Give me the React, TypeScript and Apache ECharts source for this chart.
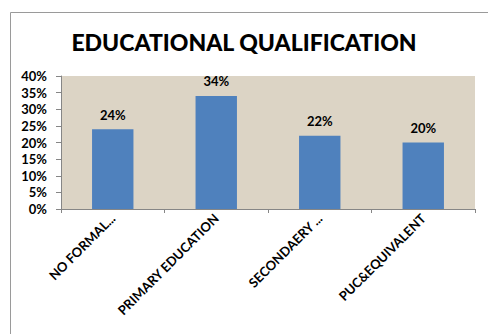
import React, { useEffect, useRef } from "react";
import * as echarts from "echarts";

const categories = ["NO FORMAL...", "PRIMARY EDUCATION", "SECONDAERY ...", "PUC&EQUIVALENT"];
const shares = [24, 34, 22, 20];
const titleText = "EDUCATIONAL QUALIFICATION";

const FONT = "Lato, 'Open Sans', sans-serif";

export default function App() {
  const ref = useRef<HTMLDivElement>(null);

  useEffect(() => {
    if (!ref.current) return;
    const chart = echarts.init(ref.current, null, { renderer: "svg" });
    chart.setOption({
      animation: false,
      backgroundColor: "#ffffff",
      graphic: [
        {
          type: "rect",
          shape: { x: 10.5, y: 12.5, width: 500, height: 400 },
          style: { fill: "none", stroke: "#9a9a9a", lineWidth: 1 },
          z: -10,
        },
      ],
      title: {
        text: titleText,
        left: "center",
        top: 25,
        textStyle: {
          fontFamily: FONT,
          fontWeight: 900,
          fontSize: 23,
          color: "#000000",
        },
      },
      grid: {
        left: 61,
        right: 13,
        top: 76,
        bottom: 125,
        show: true,
        backgroundColor: "#dcd4c5",
        borderWidth: 0,
      },
      xAxis: {
        type: "category",
        data: categories,
        axisLine: { lineStyle: { color: "#868686", width: 1 } },
        axisTick: { show: true, alignWithLabel: false, length: 4, lineStyle: { color: "#868686" } },
        axisLabel: {
          interval: 0,
          rotate: 45,
          margin: 7,
          fontFamily: FONT,
          fontWeight: "bold",
          fontSize: 13,
          color: "#000000",
        },
      },
      yAxis: {
        type: "value",
        min: 0,
        max: 40,
        interval: 5,
        splitLine: { show: false },
        axisLine: { show: true, lineStyle: { color: "#868686", width: 1 } },
        axisTick: { show: true, length: 5, lineStyle: { color: "#868686" } },
        axisLabel: {
          formatter: "{value}%",
          margin: 14,
          fontFamily: FONT,
          fontWeight: "bold",
          fontSize: 13,
          color: "#000000",
        },
      },
      series: [
        {
          type: "bar",
          data: shares,
          barWidth: "40%",
          itemStyle: { color: "#4f81bd" },
          label: {
            show: true,
            position: "top",
            distance: 8,
            formatter: "{c}%",
            fontFamily: FONT,
            fontWeight: "bold",
            fontSize: 13,
            color: "#000000",
          },
        },
      ],
    });
    return () => chart.dispose();
  }, []);

  return <div ref={ref} style={{ width: 488, height: 334, position: "absolute", left: 0, top: 0 }} />;
}
